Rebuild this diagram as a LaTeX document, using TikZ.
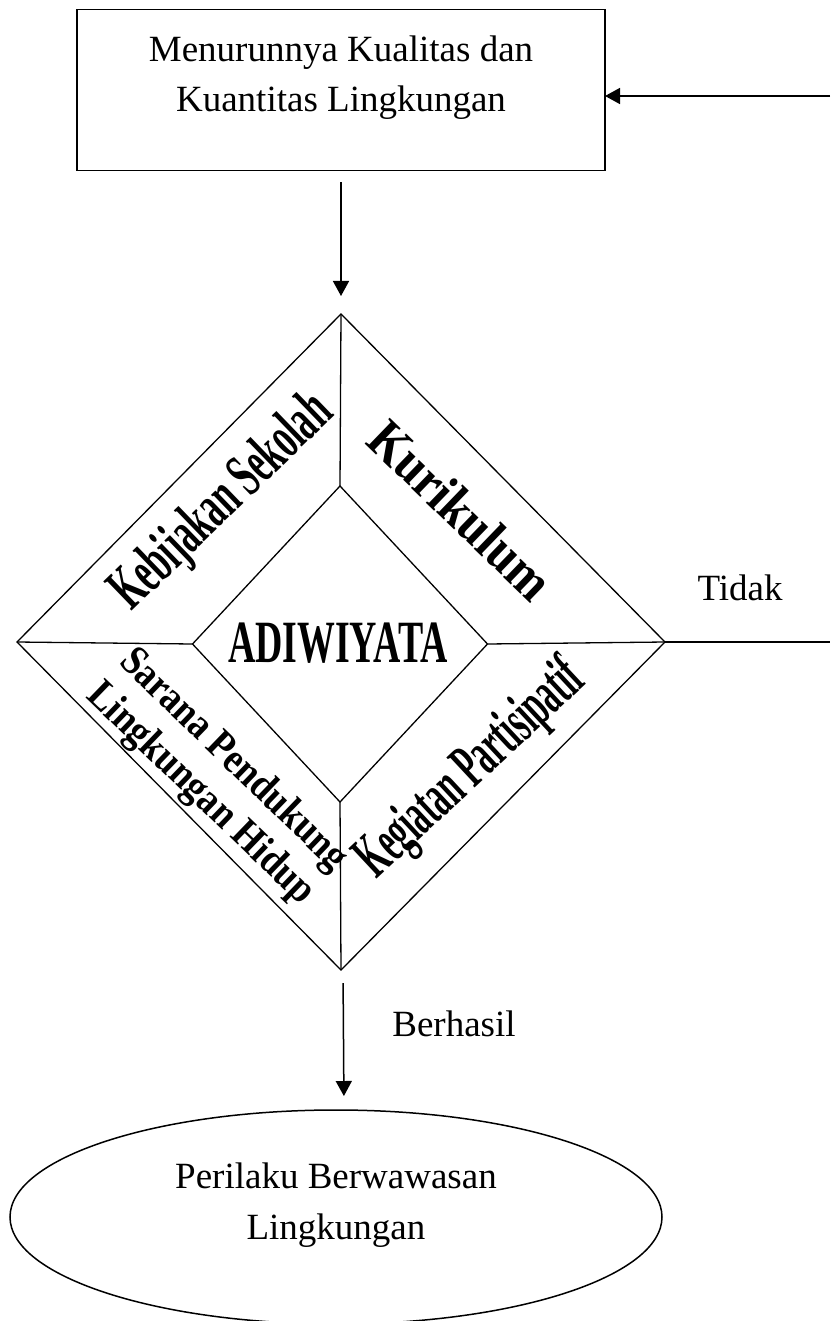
\documentclass[tikz,border=0pt]{standalone}
\usepackage{fontspec}
\setmainfont{Liberation Serif}
\usetikzlibrary{shapes.geometric,arrows.meta}
\newcommand{\wordart}[2]{\scalebox{#1}[1]{#2}}
\begin{document}
\begin{tikzpicture}[x=1pt,y=-1pt,
  every node/.style={inner sep=0pt, outer sep=0pt},
  shapeline/.style={draw, line width=1.5pt},
  dialine/.style={draw, line width=1.3pt},
  arr/.style={line width=1.5pt, -{Triangle[width=16pt,length=15pt]}},
  plain/.style={font=\fontsize{37}{50}\selectfont, align=center},
  artfont/.style={font=\fontsize{#1}{#1}\bfseries\selectfont}
]
\useasboundingbox (0,0) rectangle (830,1321);
\clip (0,0) rectangle (830,1321);

% top box
\node[shapeline, minimum width=528pt, minimum height=161pt] (box) at (341,90) {};
\node[plain] (boxtext) at (341,77.5) {Menurunnya Kualitas dan\\Kuantitas Lingkungan};

% diamonds
\node[diamond, dialine, minimum width=648pt, minimum height=656pt] (outer) at (341,642) {};
\node[diamond, dialine, minimum width=295pt, minimum height=316pt] (inner) at (340,644) {};
\draw[dialine] (outer.north) -- (inner.north);
\draw[dialine] (inner.south) -- (outer.south);
\draw[dialine] (outer.west) -- (inner.west);
\draw[dialine] (inner.east) -- (outer.east);

% diamond texts
\node[artfont=60] (adiwiyata) at (338,643) {\wordart{0.63}{ADIWIYATA}};
\node[artfont=62, rotate=44] (kebijakan) at (223,503) {\wordart{0.56}{Kebijakan Sekolah}};
\node[artfont=55, rotate=-44] (kurikulum) at (461,510) {\wordart{0.87}{Kurikulum}};
\node[artfont=63, rotate=43] (kegiatan) at (472,770) {\wordart{0.51}{Kegiatan Partisipatif}};
\node[font=\fontsize{42}{47}\bfseries\selectfont, rotate=-44] (sarana) at (216,778)
  {\wordart{0.87}{\begin{tabular}{@{}c@{}}Sarana Pendukung\\Lingkungan Hidup\end{tabular}}};

% ellipse
\node[ellipse, shapeline, minimum width=652pt, minimum height=214pt] (goal) at (336,1217) {};
\node[plain, font=\fontsize{37}{51}\selectfont] (goaltext) at (336,1205) {Perilaku Berwawasan\\Lingkungan};

% connectors
\draw[arr, shorten <=12pt, shorten >=18pt] (box.south) -- (outer.north);
\draw[arr, shorten <=13pt, shorten >=14pt] ([xshift=2pt]outer.south) -- ([xshift=8pt]goal.north);
\node[plain, anchor=base] (berhasil) at (454,1036) {Berhasil};

\coordinate (r1) at (830,642);
\coordinate (r2) at (830,96);
\draw[dialine] (outer.east) -- (r1);
\draw[arr] (r2) -- (r2 -| box.east);
\node[plain, anchor=base] (tidak) at (740,600) {Tidak};
\end{tikzpicture}
\end{document}
